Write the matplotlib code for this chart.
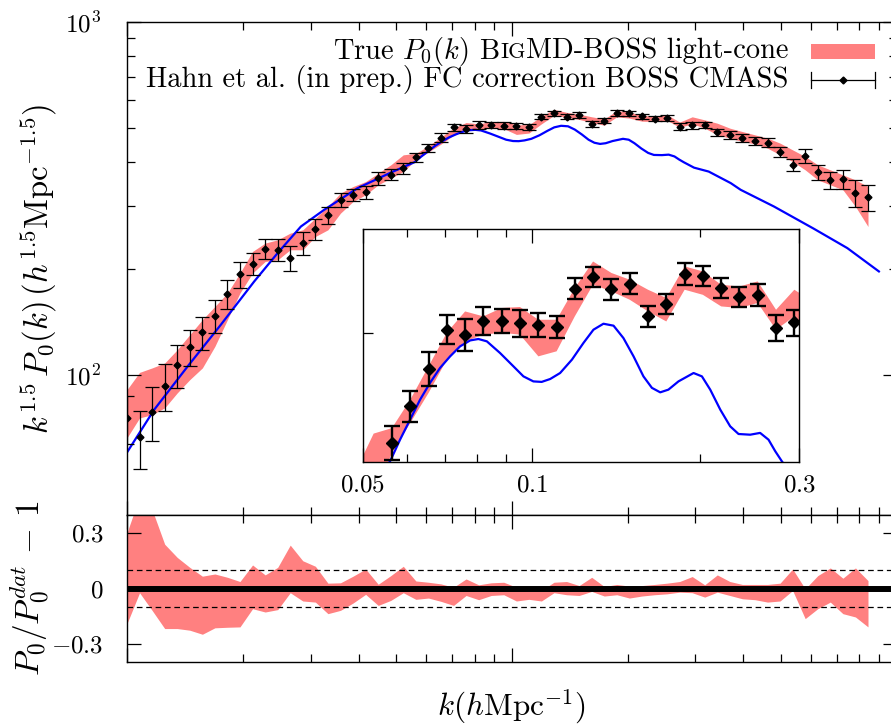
import matplotlib
matplotlib.use("Agg")
import matplotlib.pyplot as plt
from matplotlib.patches import Rectangle
from matplotlib.lines import Line2D
from matplotlib.ticker import FixedLocator, NullFormatter, NullLocator

plt.rcParams["font.family"] = "serif"
plt.rcParams["font.serif"] = ["cmr10", "DejaVu Serif"]
plt.rcParams["mathtext.fontset"] = "cm"
plt.rcParams["axes.formatter.use_mathtext"] = True

# k bins (h/Mpc)
k = [0.0100, 0.01078, 0.01162, 0.01253, 0.01351, 0.01456, 0.01570, 0.01692, 0.01824, 0.01966,
     0.02120, 0.02286, 0.02464, 0.02656, 0.02863, 0.03087, 0.03328, 0.03588, 0.03868, 0.04170,
     0.04496, 0.04847, 0.05224, 0.05632, 0.06072, 0.06546, 0.07057, 0.07607, 0.08201, 0.08842,
     0.09531, 0.1028, 0.1108, 0.1194, 0.1287, 0.1388, 0.1496, 0.1613, 0.1739, 0.1875,
     0.2021, 0.2179, 0.2349, 0.2532, 0.2730, 0.2943, 0.3172, 0.3420, 0.3687, 0.3975,
     0.4285, 0.4619, 0.4980, 0.5368, 0.5787, 0.6239, 0.6726, 0.7251, 0.7817, 0.8427]

# BOSS CMASS data, k^1.5 P0
p_dat = [75.4, 66.4, 78.4, 93.1, 106.7, 119.8, 131.7, 146.9, 169.6, 192.9,
         206.3, 227.0, 226.0, 214.1, 236.0, 259.2, 284.0, 313.2, 323.6, 328.5,
         360.7, 368.6, 385.0, 413.4, 440.3, 469.9, 502.6, 498.3, 510.4, 510.4,
         508.4, 506.9, 504.9, 539.4, 550.5, 539.1, 544.1, 514.3, 525.6, 553.3,
         551.6, 540.1, 531.8, 533.8, 504.1, 508.9, 510.7, 486.9, 478.5, 470.1,
         461.0, 455.0, 427.5, 393.5, 418.1, 375.8, 356.7, 359.1, 327.2, 318.0]
p_err = [11.7, 12.5, 13.6, 14.4, 14.8, 13.9, 14.4, 15.4, 15.9, 16.4,
         15.2, 14.8, 15.9, 16.9, 17.4, 18.0, 15.7, 14.6, 13.0, 14.2,
         15.2, 13.3, 13.5, 12.0, 11.5, 13.7, 12.5, 13.7, 12.2, 10.6,
         12.0, 10.2, 9.4, 9.9, 9.3, 9.7, 9.8, 9.2, 9.1, 10.8,
         9.2, 9.3, 9.2, 9.9, 11.4, 11.5, 11.0, 11.5, 11.5, 12.0,
         12.5, 13.0, 14.4, 15.0, 18.7, 18.4, 19.6, 22.5, 29.3, 26.5]

# BigMD-BOSS light-cone band
p_lc_lo = [66.2, 75.4, 77.0, 80.5, 88.8, 96.8, 104.5, 120.3, 143.2, 170.4,
           194.2, 209.4, 211.7, 226.0, 226.0, 246.5, 257.5, 287.1, 309.7, 323.6,
           345.4, 360.7, 376.6, 406.3, 427.8, 450.6, 477.3, 492.6, 498.3, 500.0,
           498.3, 480.0, 484.2, 514.3, 543.2, 536.9, 529.3, 518.7, 509.8, 538.5,
           533.8, 523.2, 521.8, 526.3, 502.6, 514.3, 500.0, 478.6, 468.4, 458.1,
           451.2, 438.7, 420.1, 402.1, 380.8, 356.7, 345.4, 334.3, 299.8, 263.1]
p_lc_hi = [90.7, 101.5, 104.5, 107.9, 117.7, 129.8, 143.2, 156.1, 170.4, 194.2,
           223.6, 236.1, 241.2, 252.0, 257.5, 277.9, 299.8, 327.2, 341.6, 352.8,
           372.7, 393.5, 420.1, 424.1, 445.4, 471.8, 500.0, 518.7, 514.3, 521.8,
           522.7, 511.3, 511.3, 540.1, 565.4, 554.3, 547.9, 538.5, 530.9, 560.6,
           555.8, 543.2, 541.5, 546.3, 520.2, 538.5, 527.8, 516.4, 500.0, 489.0,
           478.6, 468.4, 453.4, 433.9, 415.5, 393.5, 380.8, 368.6, 356.7, 341.6]

# ratio band P0/P0^dat - 1
r_lo = [-0.191, -0.023, -0.119, -0.218, -0.218, -0.227, -0.249, -0.214, -0.211, -0.209,
        -0.110, -0.128, -0.115, -0.023, -0.068, -0.074, -0.137, -0.119, -0.079, -0.032,
        -0.092, -0.065, -0.023, -0.059, -0.052, -0.070, -0.092, -0.038, -0.061, -0.038,
        -0.034, -0.068, -0.059, -0.068, -0.023, -0.034, -0.038, -0.016, -0.041, -0.034,
        -0.052, -0.041, -0.034, -0.029, -0.020, -0.023, -0.047, -0.020, -0.038, -0.056,
        -0.061, -0.074, -0.068, -0.011, -0.164, -0.110, -0.074, -0.137, -0.155, -0.209]
r_hi = [0.304, 0.50, 0.43, 0.241, 0.169, 0.115, 0.067, 0.079, 0.061, 0.038,
        0.128, 0.074, 0.115, 0.236, 0.151, 0.121, 0.029, 0.031, 0.067, 0.106,
        0.023, 0.070, 0.121, 0.041, 0.034, 0.025, 0.007, 0.052, 0.020, 0.031,
        0.034, 0.007, -0.016, -0.011, 0.034, 0.038, 0.016, 0.061, 0.011, 0.022,
        0.013, 0.016, 0.022, 0.029, 0.038, 0.065, 0.020, 0.074, 0.038, 0.022,
        0.022, 0.022, 0.029, 0.106, -0.002, 0.070, 0.112, 0.056, 0.112, 0.043]

# linear theory curve
k_lin = [0.01004, 0.01177, 0.01438, 0.01754, 0.02141, 0.02463, 0.02831, 0.03254, 0.03974, 0.04851,
         0.05587, 0.05822, 0.06066, 0.06321, 0.06585, 0.06862, 0.07152, 0.07453, 0.07767, 0.08034,
         0.08318, 0.08781, 0.09278, 0.09667, 0.1007, 0.1042, 0.1079, 0.1124, 0.1180, 0.1237,
         0.1289, 0.1343, 0.1400, 0.1458, 0.1520, 0.1583, 0.1639, 0.1696, 0.1754, 0.1828,
         0.1945, 0.2013, 0.2083, 0.2171, 0.2261, 0.2340, 0.2455, 0.2557, 0.2647, 0.2721,
         0.2797, 0.2975, 0.3249, 0.3706, 0.3934, 0.4800, 0.6098, 0.7446, 0.8995]
p_lin = [60.6, 79.6, 105.6, 138.6, 183.8, 221.2, 263.1, 293.4, 338.0, 374.2,
         400.4, 415.7, 430.3, 445.4, 458.5, 470.5, 480.0, 488.4, 493.4, 494.6,
         492.6, 482.8, 471.8, 463.7, 459.7, 459.3, 461.6, 466.4, 477.3, 491.2,
         502.6, 507.8, 506.1, 495.4, 480.0, 463.7, 454.6, 451.1, 453.2, 459.7,
         466.4, 463.7, 453.2, 437.8, 425.4, 419.8, 419.3, 420.6, 415.7, 407.5,
         400.4, 386.4, 376.6, 349.3, 334.3, 299.8, 259.2, 228.5, 196.2]

pink = "#ff8080"
blue = "#0000ff"
W, H = 891, 727


def fx(px):
    return px / W


def fy(py):
    return 1 - py / H


fig = plt.figure(figsize=(W / 100, H / 100), dpi=100)
ax = fig.add_axes([fx(127), fy(515), 769.6 / W, 493 / H])
axr = fig.add_axes([fx(127), fy(662), 769.6 / W, 147 / H])
axin = fig.add_axes([fx(363), fy(462), 436 / W, 233 / H])

# main panel
ax.fill_between(k, p_lc_lo, p_lc_hi, color=pink, lw=0, zorder=1)
ax.plot(k_lin, p_lin, color=blue, lw=1.6, zorder=2)
ax.errorbar(k, p_dat, yerr=p_err, fmt="D", ms=3.5, color="k", elinewidth=0.9,
            capsize=4.8, capthick=0.9, zorder=3)
ax.set_xscale("log")
ax.set_yscale("log")
ax.set_xlim(0.01, 1.0)
ax.set_ylim(40, 1000)
ax.yaxis.set_major_locator(FixedLocator([100, 1000]))
ax.set_yticklabels([r"$10^{2}$", r"$10^{3}$"])
ax.yaxis.set_minor_locator(FixedLocator([200, 300, 400, 500, 600, 700, 800, 900]))
ax.yaxis.set_minor_formatter(NullFormatter())
ax.xaxis.set_major_formatter(NullFormatter())
ax.xaxis.set_minor_formatter(NullFormatter())
ax.tick_params(axis="y", which="major", pad=18.5)
ax.set_ylabel(r"$k^{1.5}\,P_0(k)\,(h^{1.5}\mathrm{Mpc}^{-1.5})$", fontsize=23.5)
ax.yaxis.set_label_coords(-68 / 769.6, 0.5)

# ratio panel
axr.fill_between(k, r_lo, r_hi, color=pink, lw=0, zorder=1)
axr.axhline(0, color="k", lw=4.3, zorder=3)
for yy in (0.1, -0.1):
    axr.axhline(yy, color="k", lw=0.9, ls=(0, (4.5, 3)), zorder=2)
axr.set_xscale("log")
axr.set_xlim(0.01, 1.0)
axr.set_ylim(-0.4, 0.4)
axr.yaxis.set_major_locator(FixedLocator([-0.3, 0, 0.3]))
axr.set_yticklabels([r"$-0.3$", r"$0$", r"$0.3$"])
axr.yaxis.set_minor_locator(NullLocator())
axr.xaxis.set_major_formatter(NullFormatter())
axr.xaxis.set_minor_formatter(NullFormatter())
axr.tick_params(axis="y", which="major", pad=17)
axr.set_ylabel(r"$P_0/P_0^{dat}\,-\,1$", fontsize=24)
axr.yaxis.set_label_coords(-76 / 769.6, 0.5)
axr.set_xlabel(r"$k(h\mathrm{Mpc}^{-1})$", fontsize=22.5)
axr.xaxis.set_label_coords(0.5, -25 / 147)

for a in (ax, axr):
    a.tick_params(which="both", direction="in", top=True, right=True, labelsize=18, width=0.9)
    a.tick_params(which="major", length=10)
    a.tick_params(which="minor", length=5.5)
    for s in a.spines.values():
        s.set_linewidth(1.0)

# inset
axin.fill_between(k, p_lc_lo, p_lc_hi, color=pink, lw=0, zorder=1)
axin.plot(k_lin, p_lin, color=blue, lw=1.6, zorder=2)
axin.errorbar(k, p_dat, yerr=p_err, fmt="D", ms=6, color="k", elinewidth=1.7,
              capsize=5.5, capthick=1.7, zorder=3)
axin.set_xscale("log")
axin.set_yscale("log")
axin.set_xlim(0.05, 0.3)
axin.set_ylim(400, 598)
axin.xaxis.set_major_locator(FixedLocator([0.05, 0.1, 0.3]))
axin.set_xticklabels([r"$0.05$", r"$0.1$", r"$0.3$"])
axin.xaxis.set_minor_locator(FixedLocator([0.06, 0.07, 0.08, 0.09, 0.2]))
axin.xaxis.set_minor_formatter(NullFormatter())
axin.yaxis.set_major_locator(FixedLocator([500]))
axin.yaxis.set_major_formatter(NullFormatter())
axin.yaxis.set_minor_locator(NullLocator())
axin.tick_params(which="both", direction="in", top=True, labelsize=18, width=0.9, pad=9)
axin.tick_params(which="major", length=7)
axin.tick_params(axis="x", which="major", length=10)
axin.tick_params(which="minor", length=6)
for s in axin.spines.values():
    s.set_linewidth(1.0)

# key
fs = 20.5
y1, y2, xr = fy(58.5), fy(87.3), fx(788)
t3 = fig.text(xr, y1, "MD-BOSS light-cone", ha="right", va="baseline", fontsize=fs)
t2 = ax.annotate("IG", xy=(0, y1), xycoords=(t3, "figure fraction"), ha="right",
                 va="baseline", fontsize=fs * 0.78, annotation_clip=False)
ax.annotate(r"True $P_0(k)$ B", xy=(0, y1), xycoords=(t2, "figure fraction"), ha="right",
            va="baseline", fontsize=fs, annotation_clip=False)
fig.text(xr, y2, "Hahn et al. (in prep.) FC correction BOSS CMASS", ha="right",
         va="baseline", fontsize=fs)
fig.add_artist(Rectangle((fx(811), fy(59)), 64 / W, 15 / H, transform=fig.transFigure,
                         fc=pink, ec="none"))
ky = fy(80)
fig.add_artist(Line2D([fx(811), fx(875)], [ky, ky], color="k", lw=0.9, transform=fig.transFigure))
for xc in (811, 875):
    fig.add_artist(Line2D([fx(xc), fx(xc)], [fy(72), fy(88)], color="k", lw=0.9,
                          transform=fig.transFigure))
fig.add_artist(Line2D([fx(843)], [ky], marker="D", ms=3.5, color="k", transform=fig.transFigure))

fig.savefig("out.png", dpi=100)
